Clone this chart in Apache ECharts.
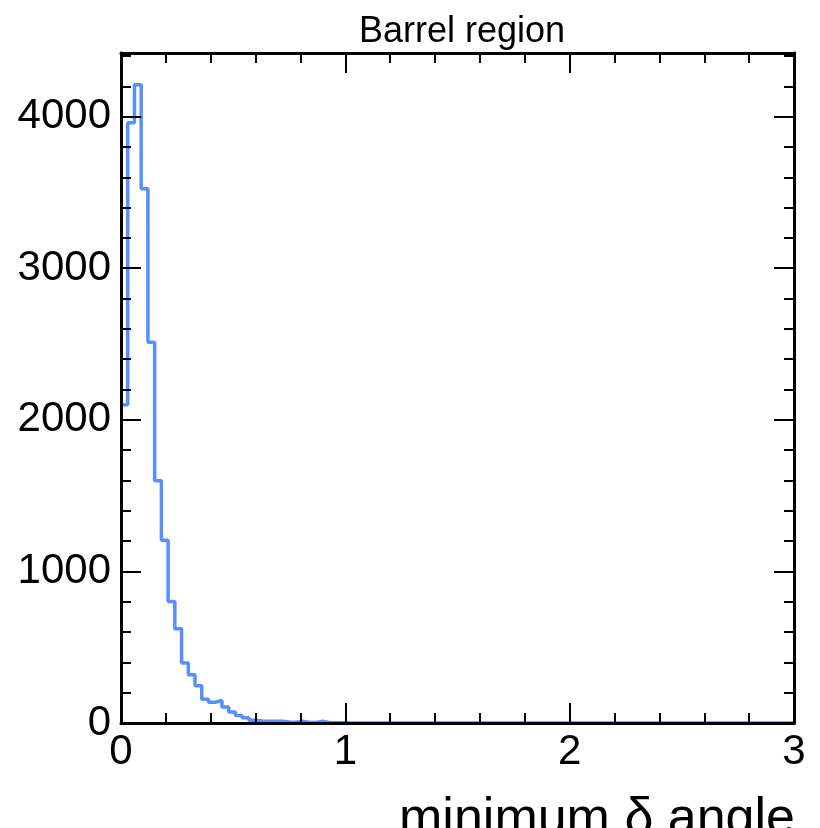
<!DOCTYPE html>
<html>
<head>
<meta charset="utf-8">
<script src="https://cdn.jsdelivr.net/npm/echarts@6/dist/echarts.min.js"></script>
<style>
html,body{margin:0;padding:0;background:#fff;}
#chart{width:820px;height:828px;}
</style>
</head>
<body>
<div id="chart"></div>
<script>
// ---- data ----
const titleText = 'Barrel region';
const xLabelText = 'minimum \u03b4 angle';
const binWidth = 0.03;
const xRange = [0, 3];
const yRange = [0, 4420];
const xMajorTicks = [0, 1, 2, 3];
const yMajorTicks = [0, 1000, 2000, 3000, 4000];
const counts = [
  2100, 3960, 4210, 3525, 2512, 1598, 1206, 802, 621, 396,
  318, 246, 157, 137, 148, 106, 72, 50, 34, 18,
  13, 12, 12, 11, 6, 5, 12, 4, 4, 11,
  2, 1, 1, 0, 0, 0, 0, 0, 0, 0,
  0, 0, 0, 0, 0, 0, 0, 0, 0, 0,
  0, 0, 0, 0, 0, 0, 0, 0, 0, 0,
  0, 0, 0, 0, 0, 0, 0, 0, 0, 0,
  0, 0, 0, 0, 0, 0, 0, 0, 0, 0,
  0, 0, 0, 0, 0, 0, 0, 0, 0, 0,
  0, 0, 0, 0, 0, 0, 0, 0, 0, 0
];

// ---- build histogram step points ----
const points = counts.map((c, i) => [+(i * binWidth).toFixed(4), c]);
points.push([xRange[1], counts[counts.length - 1]]);

const FONT = 'Liberation Sans';
const lineColor = '#5790fc';
const gridRect = { left: 121, right: 26, top: 53, bottom: 105, containLabel: false };

function xAxisDef(pos, showLabels) {
  return {
    type: 'value', gridIndex: 0, position: pos, min: xRange[0], max: xRange[1], interval: 1,
    z: 5,
    axisLine: { show: true, onZero: false, lineStyle: { color: '#000', width: 3 } },
    axisTick: { show: true, inside: true, length: 20, lineStyle: { color: '#000', width: 2 } },
    minorTick: { show: true, splitNumber: 5, length: 10, lineStyle: { color: '#000', width: 2 } },
    splitLine: { show: false },
    axisLabel: {
      show: showLabels, color: '#000', fontSize: 42, fontFamily: FONT, margin: 8,
      formatter: v => xMajorTicks.includes(v) ? String(v) : ''
    }
  };
}
function yMajorDef(pos, showLabels) {
  return {
    type: 'value', gridIndex: 0, position: pos, min: yRange[0], max: yRange[1], interval: 1000,
    z: 5,
    axisLine: { show: true, onZero: false, lineStyle: { color: '#000', width: 3 } },
    axisTick: { show: true, inside: true, length: 20, lineStyle: { color: '#000', width: 2 } },
    splitLine: { show: false },
    axisLabel: {
      show: showLabels, color: '#000', fontSize: 42, fontFamily: FONT, margin: 10,
      showMaxLabel: false,
      formatter: v => yMajorTicks.includes(v) ? String(v) : ''
    }
  };
}
function yMinorDef(pos) {
  return {
    type: 'value', gridIndex: 1, position: pos, min: yRange[0], max: yRange[1], interval: 200,
    z: 5,
    axisLine: { show: true, onZero: false, lineStyle: { color: '#000', width: 3 } },
    axisTick: { show: true, inside: true, length: 10, lineStyle: { color: '#000', width: 2 } },
    splitLine: { show: false },
    axisLabel: { show: false }
  };
}

const chart = echarts.init(document.getElementById('chart'), null, { renderer: 'canvas' });
chart.setOption({
  animation: false,
  backgroundColor: '#fff',
  title: {
    text: titleText, left: 457, top: 9, textAlign: 'center',
    textStyle: { color: '#000', fontSize: 36, fontWeight: 'normal', fontFamily: FONT }
  },
  grid: [Object.assign({}, gridRect), Object.assign({}, gridRect)],
  xAxis: [
    xAxisDef('bottom', true),
    xAxisDef('top', false),
    { type: 'value', gridIndex: 1, min: xRange[0], max: xRange[1], show: false }
  ],
  yAxis: [yMajorDef('left', true), yMajorDef('right', false), yMinorDef('left'), yMinorDef('right')],
  graphic: [{
    type: 'text', right: 25, bottom: -18, z: 10,
    style: { text: xLabelText, fill: '#000', fontSize: 52, fontFamily: FONT }
  }],
  series: [{
    type: 'line', step: 'end', data: points, xAxisIndex: 0, yAxisIndex: 0,
    symbol: 'none', z: 2,
    lineStyle: { color: lineColor, width: 3.5 }
  }]
});
</script>
</body>
</html>
